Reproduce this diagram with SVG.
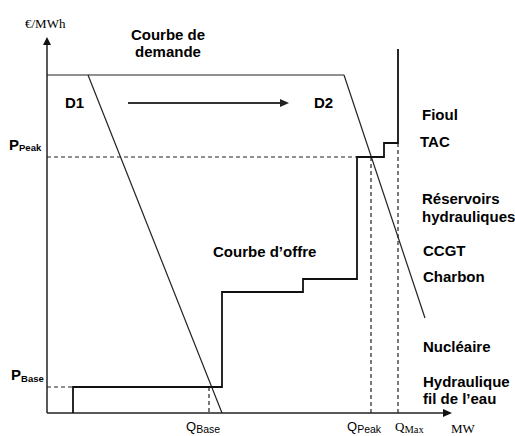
<svg xmlns="http://www.w3.org/2000/svg" width="515" height="436" viewBox="0 0 515 436">
<style>
.b{font-family:"Liberation Sans",Arial,sans-serif;font-weight:bold;font-size:15px;fill:#000}
.s{font-family:"Liberation Sans",Arial,sans-serif;font-size:13px;fill:#000}
.t{font-family:"Liberation Serif","Times New Roman",serif;font-size:13px;fill:#000}
.ax{stroke:#222;stroke-width:1.5;fill:none}
.d{stroke:#222;stroke-width:1.2;fill:none}
.dash{stroke:#222;stroke-width:1.2;stroke-dasharray:4,3;fill:none}
.sup{stroke:#111;stroke-width:1.8;fill:none}
</style>
<rect width="515" height="436" fill="#fff"/>
<g id="connectors">
<line class="ax" x1="47" y1="44" x2="47" y2="413"/>
<polygon points="47,37 43,45 51,45" fill="#111"/>
<line class="ax" x1="47" y1="413" x2="444" y2="413"/>
<polygon points="452,413 443,409 443,417" fill="#111"/>
<line class="d" x1="47" y1="75" x2="344" y2="75"/>
<line class="d" x1="88" y1="75" x2="222" y2="413"/>
<line class="d" x1="344" y1="75" x2="425" y2="318"/>
<line x1="128" y1="103" x2="281" y2="103" stroke="#333" stroke-width="2"/>
<polygon points="289,103 280,99 280,107" fill="#222"/>
<line class="dash" x1="47" y1="157" x2="357" y2="157"/>
<line class="dash" x1="47" y1="387" x2="73" y2="387"/>
<line class="dash" x1="209" y1="387" x2="209" y2="413"/>
<line class="dash" x1="371" y1="157" x2="371" y2="413"/>
<line class="dash" x1="398" y1="143" x2="398" y2="413"/>
<path class="sup" d="M73,413 V387 H222 V292 H303 V279 H357 V157 H384 V143 H398 V49"/>
</g>
<g id="axis-y-label"><text class="t" x="25" y="28" font-size="14">€/MWh</text></g>
<g id="axis-x-label"><text class="t" x="451" y="433">MW</text></g>
<g id="demand-title"><text class="b" x="168" y="40" text-anchor="middle">Courbe de</text><text class="b" x="168" y="57" text-anchor="middle">demande</text></g>
<g id="d1"><text class="b" x="65" y="108">D1</text></g>
<g id="d2"><text class="b" x="314" y="108">D2</text></g>
<g id="supply-title"><text class="b" x="213" y="257">Courbe d’offre</text></g>
<g id="p-peak"><text class="b" x="9" y="150">P<tspan font-size="9.5" dy="1">Peak</tspan></text></g>
<g id="p-base"><text class="b" x="11" y="380">P<tspan font-size="9.5" dy="2">Base</tspan></text></g>
<g id="q-base"><text class="s" x="186" y="431">Q<tspan font-size="10.5" dy="2">Base</tspan></text></g>
<g id="q-peak"><text class="s" x="347" y="431">Q<tspan font-size="10.5" dy="2">Peak</tspan></text></g>
<g id="q-max"><text class="t" x="395" y="431">Q<tspan font-size="10.5" dy="2">Max</tspan></text></g>
<g id="fioul"><text class="b" x="422" y="120">Fioul</text></g>
<g id="tac"><text class="b" x="420" y="147">TAC</text></g>
<g id="reservoirs"><text class="b" x="422" y="204">Réservoirs</text><text class="b" x="422" y="222">hydrauliques</text></g>
<g id="ccgt"><text class="b" x="423" y="256">CCGT</text></g>
<g id="charbon"><text class="b" x="423" y="282">Charbon</text></g>
<g id="nucleaire"><text class="b" x="423" y="352">Nucléaire</text></g>
<g id="hydraulique"><text class="b" x="423" y="387">Hydraulique</text><text class="b" x="423" y="404">fil de l’eau</text></g>
</svg>
